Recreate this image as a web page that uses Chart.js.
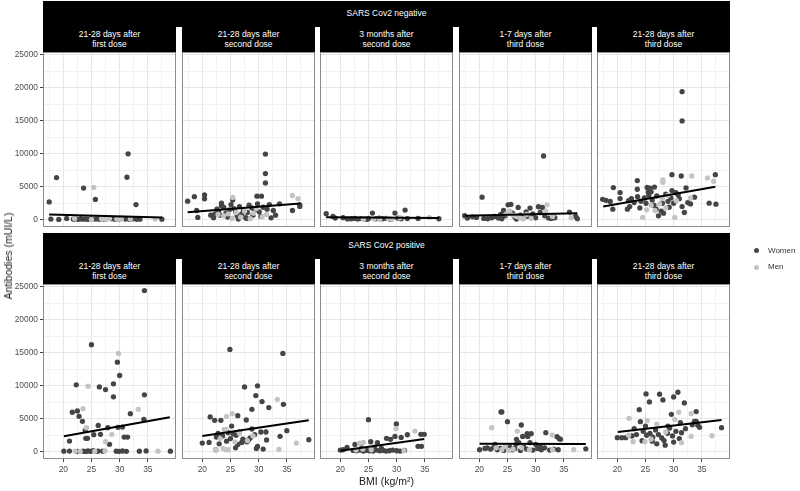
<!DOCTYPE html>
<html>
<head>
<meta charset="utf-8">
<script src="https://cdn.jsdelivr.net/npm/chart.js@4.4.1/dist/chart.umd.min.js"></script>
<style>
  body { margin: 0; width: 800px; height: 491px; position: relative; overflow: hidden; background: #fff;
         font-family: "Liberation Sans", Arial, sans-serif; }
  canvas { position: absolute; }
  .strip { position: absolute; background: #000; color: #fff; font-size: 8.5px; line-height: 9.5px;
           display: flex; align-items: center; justify-content: center; text-align: center; white-space: pre; }
  .title { position: absolute; color: #1a1a1a; font-size: 10.5px; white-space: nowrap; transform: translate(-50%, -50%); }
  .legend { position: absolute; font-size: 8px; color: #333; white-space: nowrap; }
  .dot { position: absolute; width: 5px; height: 5px; border-radius: 50%; }
</style>
</head>
<body>
<script>
// facets and axes
var rowLabels = ["SARS Cov2 negative", "SARS Cov2 positive"];
var timepoints = ["21-28 days after\nfirst dose", "21-28 days after\nsecond dose", "3 months after\nsecond dose",
                  "1-7 days after\nthird dose", "21-28 days after\nthird dose"];
var xTicks = [20, 25, 30, 35];
var yTicks = [0, 5000, 10000, 15000, 20000, 25000];
var seriesNames = ["Women", "Men"];
var xTitle = "BMI (kg/m²)";
var yTitle = "Antibodies (mUI/L)";

// SARS Cov2 negative, [BMI, antibodies]
var negFirstWomen = [[17.5,2700],[18.8,6400],[23.6,4800],[25.7,3080],[31.5,10000],[31.3,6450],[32.9,2300],
  [17.8,100],[19.2,50],[20.6,200],[21.8,80],[22.3,120],[22.7,60],[23.1,150],[23.5,90],[24.0,110],[24.4,70],
  [24.9,160],[25.6,100],[26.1,130],[26.5,60],[27.3,90],[27.9,180],[28.6,140],[29.2,60],[29.9,120],[30.6,200],
  [31.0,100],[31.7,80],[32.3,150],[33.0,60],[33.6,90],[37.5,80]];
var negFirstMen = [[25.4,4900],[26.8,120],[27.6,60],[28.2,200],[29.5,100],[30.3,60],[31.9,150],[36.3,100],[25.0,40],[22.0,200]];
var negFirstFit = [[17.5,780],[37.5,330]];

var negSecondWomen = [[17.4,2820],[18.6,3500],[20.4,3770],[20.4,3170],[19.2,360],[19.0,1400],[23.4,2520],[23.4,2110],
  [25.4,3000],[29.7,3580],[30.5,3580],[31.2,9970],[31.2,7000],[31.2,5590],[33.7,2420],[32.2,290],[36.0,1400],
  [37.3,2270],[37.3,2020],[21.5,700],[21.9,650],[22.3,900],[22.6,1600],[22.9,1200],[23.1,700],[23.8,1900],
  [24.2,1000],[24.5,400],[24.8,1500],[25.1,2300],[25.6,1700],[25.9,1200],[26.2,600],[26.6,2000],[27.0,900],
  [27.3,1400],[27.7,300],[28.0,1100],[28.3,2200],[28.8,1800],[29.0,700],[29.3,1500],[29.8,2400],[30.1,1200],
  [30.4,500],[30.8,1900],[31.5,1600],[31.9,2300],[32.6,1400],[33.0,700],[22.0,300],[26.4,100],[27.9,200]];
var negSecondMen = [[25.4,3380],[23.8,600],[24.6,900],[25.3,200],[26.0,1100],[26.8,400],[27.5,1300],[28.5,150],
  [29.1,1000],[30.6,430],[31.4,800],[36.0,3680],[37.0,3200],[22.8,800],[29.6,1700]];
var negSecondFit = [[17.4,1150],[37.4,2450]];

var neg3mWomen = [[17.5,910],[18.7,510],[19.1,260],[20.5,310],[22.0,150],[22.6,200],[23.1,100],[23.7,180],[24.3,120],
  [25.7,1010],[25.0,200],[26.3,150],[26.9,250],[27.5,150],[28.2,200],[28.8,100],[29.7,1010],[30.2,250],[31.5,1470],
  [30.8,150],[31.9,180],[33.8,200],[37.5,150],[24.8,60],[21.3,120]];
var neg3mMen = [[26.0,100],[27.0,60],[28.5,180],[29.2,80],[30.6,300],[35.8,330],[24.1,90]];
var neg3mFit = [[17.5,380],[37.5,250]];

var negThird7Women = [[20.5,3430],[31.4,9670],[17.4,610],[17.9,260],[18.8,450],[19.5,350],[20.8,200],[21.5,150],
  [22.2,300],[22.8,500],[23.4,250],[23.8,800],[24.3,1420],[24.6,600],[25.1,2270],[25.6,2320],[25.9,1000],[26.3,400],
  [26.9,1870],[27.3,700],[27.8,300],[28.3,1200],[28.7,500],[29.0,1770],[29.5,900],[30.0,300],[30.5,1970],[31.2,1870],
  [30.8,1100],[31.6,600],[32.3,250],[32.8,200],[33.4,300],[36.0,1170],[37.1,510],[37.4,160],[24.0,150],[26.6,100]];
var negThird7Men = [[24.8,900],[25.4,1300],[26.0,700],[26.6,500],[27.2,250],[27.8,150],[28.4,800],[29.2,200],
  [32.0,2270],[33.0,500],[36.3,300],[31.8,1300]];
var negThird7Fit = [[17.4,600],[37.4,1000]];

var negThird28Women = [[31.5,19430],[31.5,15000],[29.7,6840],[31.35,6640],[37.4,6840],[23.55,5940],[19.3,4880],
  [23.55,4630],[25.3,4900],[25.8,4800],[26.6,4950],[25.5,4200],[26.0,4250],[32.2,4830],[29.7,4430],[17.4,3100],
  [18.0,2950],[18.75,2770],[19.2,1610],[20.5,4130],[20.5,3220],[22.5,3200],[22.0,2900],[21.8,1600],[22.2,2000],
  [23.0,2600],[23.6,3500],[24.2,2800],[24.8,3300],[25.1,2500],[25.6,3700],[26.2,3000],[26.5,2200],[27.0,3600],
  [27.3,600],[27.8,1300],[28.2,1000],[28.6,3900],[29.0,2800],[29.5,3300],[30.0,2500],[30.4,4100],[31.0,3200],
  [31.5,2000],[31.9,1100],[32.5,2600],[33.0,2400],[33.7,3420],[36.3,2520],[37.5,2370],[30.8,3800],[24.0,1800],
  [26.9,1600],[29.2,1900],[28.0,2500]];
var negThird28Men = [[33.2,6640],[36.0,6340],[37.1,5840],[28.1,6040],[28.1,5690],[24.5,350],[30.2,350],[28.0,3200],
  [29.0,3700],[27.5,2400],[26.0,2200],[26.7,1400],[28.6,1800],[25.2,1500],[33.0,3300],[30.5,2900]];
var negThird28Fit = [[17.5,2000],[37.4,5000]];

// SARS Cov2 positive
var posFirstWomen = [[34.4,24460],[25.0,16240],[29.6,13590],[30.0,11570],[22.3,10150],[26.4,9840],[27.5,9440],
  [28.9,10300],[28.9,8330],[34.4,8630],[21.6,5990],[22.5,6190],[22.8,5380],[23.4,4620],[31.9,5780],[23.9,3250],
  [26.2,4000],[27.9,3650],[30.5,3750],[29.7,3700],[21.1,1620],[24.0,2030],[24.3,2030],[25.4,2590],[26.6,2640],
  [28.2,1120],[30.8,2230],[31.4,2230],[34.3,4920],[20.1,80],[21.1,100],[22.5,60],[23.5,90],[24.0,50],[24.4,120],
  [24.8,70],[25.3,160],[25.9,60],[26.2,100],[27.0,80],[29.4,90],[29.9,60],[30.5,110],[31.2,70],[33.5,90],
  [34.7,120],[39.0,80]];
var posFirstMen = [[29.8,14920],[24.4,9950],[23.5,6540],[33.3,6440],[24.1,3650],[28.6,2640],[27.5,1520],[22.1,100],
  [23.0,60],[25.6,80],[27.4,120],[36.8,90]];
var posFirstFit = [[20.1,2350],[38.9,5250]];

var posSecondWomen = [[24.9,15520],[34.3,14920],[27.5,9840],[29.8,10000],[29.5,8520],[30.6,7610],[31.8,6700],
  [34.4,7200],[28.8,6440],[26.3,5480],[27.8,4820],[21.4,5280],[22.2,4770],[23.3,4770],[25.2,3900],[24.0,3350],
  [20.0,1320],[21.2,1420],[22.5,2230],[22.8,2800],[23.6,2400],[24.6,2900],[25.5,2700],[26.0,2500],[26.6,3000],
  [27.2,1900],[27.6,1700],[27.9,1500],[28.2,1800],[28.5,2100],[28.8,3450],[29.3,2600],[30.4,3000],[31.3,3000],
  [31.4,1780],[29.8,800],[29.6,500],[30.8,400],[35.0,3200],[33.8,2340],[38.9,1830],[25.9,600],[23.0,1200],
  [24.3,1600],[26.3,1100],[22.4,300],[25.0,2000],[27.0,1400]];
var posSecondMen = [[33.3,7960],[24.3,5380],[25.3,5780],[24.0,3350],[24.2,3400],[36.7,1320],[33.6,350],[22.4,300],
  [24.2,300],[24.6,300],[23.2,2000],[25.8,1500],[26.6,2800],[28.0,1700],[29.0,2400],[23.7,500]];
var posSecondFit = [[20.0,2380],[38.9,4770]];

var pos3mWomen = [[25.0,4870],[29.95,4210],[31.9,2580],[30.8,2180],[29.7,2330],[28.9,1880],[34.3,2640],[34.9,2640],
  [33.8,820],[34.4,820],[28.2,2030],[25.4,1520],[26.6,1370],[22.6,1100],[21.2,660],[20.0,250],[20.5,300],
  [22.3,200],[22.9,150],[23.5,250],[24.1,100],[24.6,200],[25.2,150],[25.8,100],[26.4,250],[27.0,150],[27.6,200],
  [28.1,100],[28.7,150],[29.3,250],[30.0,150],[30.6,100],[31.4,200],[23.8,600],[27.3,500],[26.0,700]];
var pos3mMen = [[29.9,3500],[33.25,3140],[23.4,1300],[24.1,1400],[31.3,150],[24.0,400],[22.8,250],[25.5,300]];
var pos3mFit = [[20.0,150],[34.9,1930]];

var posThird7Women = [[23.85,6040],[24.0,6040],[25.0,4570],[27.45,4060],[28.5,2740],[29.2,2740],[27.7,2330],
  [28.6,2330],[31.8,2890],[33.8,2280],[34.2,1980],[34.4,1880],[26.6,1880],[27.0,1370],[26.5,1120],[29.0,1370],
  [30.0,1120],[20.05,300],[21.0,500],[21.4,600],[22.0,400],[22.6,700],[23.2,300],[23.7,500],[24.3,200],[24.8,400],
  [25.4,700],[25.9,300],[26.3,500],[27.3,200],[27.9,700],[28.4,400],[29.5,250],[30.3,500],[31.0,300],[31.6,600],
  [32.5,250],[33.2,400],[34.0,300],[38.9,450],[22.8,1100],[30.8,900]];
var posThird7Men = [[22.2,3650],[26.75,3140],[32.95,2530],[36.75,300],[23.0,600],[24.0,300],[24.6,800],[25.2,200],
  [26.0,400],[27.5,600],[28.9,300],[33.0,300]];
var posThird7Fit = [[20.05,1220],[38.9,1170]];

var posThird28Women = [[25.1,8780],[27.5,8730],[30.75,9030],[30.0,8320],[25.7,7560],[28.1,7860],[31.9,7410],
  [23.9,6390],[29.6,5680],[34.0,6090],[24.1,4570],[34.0,4620],[34.3,4010],[38.5,3650],[30.0,1470],[24.4,1670],
  [20.0,2130],[20.8,2130],[21.5,2130],[22.6,2400],[23.4,2600],[24.6,3100],[25.2,2500],[25.8,2800],[26.3,2200],
  [26.8,3300],[27.3,2600],[27.9,2100],[28.3,1700],[28.9,2800],[29.3,3600],[29.8,2400],[30.4,3100],[31.0,2000],
  [31.4,2900],[32.1,3500],[33.3,4100],[34.6,3700],[23.0,3500],[25.0,3900],[26.2,1600],[27.0,1200],[28.5,1000],
  [29.0,3900],[31.2,4400],[33.7,4600]];
var posThird28Men = [[30.9,5990],[33.1,5780],[22.1,5070],[25.3,4720],[36.8,2430],[33.1,2330],[31.4,1370],[22.8,1520],
  [24.9,1520],[27.0,4200],[26.0,1900],[28.6,3000],[30.2,4900],[22.0,2500]];
var posThird28Fit = [[20.1,3000],[38.5,4820]];

var panels = [
  [[negFirstWomen, negFirstMen, negFirstFit], [negSecondWomen, negSecondMen, negSecondFit],
   [neg3mWomen, neg3mMen, neg3mFit], [negThird7Women, negThird7Men, negThird7Fit],
   [negThird28Women, negThird28Men, negThird28Fit]],
  [[posFirstWomen, posFirstMen, posFirstFit], [posSecondWomen, posSecondMen, posSecondFit],
   [pos3mWomen, pos3mMen, pos3mFit], [posThird7Women, posThird7Men, posThird7Fit],
   [posThird28Women, posThird28Men, posThird28Fit]]
];

// layout
var colLeft = [43, 182, 320, 459, 597];
var rowTop = [52, 284];
var stripTop = [1, 233];
var panelW = 133, panelH = 175, M = 8;
var yAxisW = 43, xAxisH = 22;
var colors = ["#454545", "#c4c4c4"];
var fontTick = { family: "Liberation Sans", size: 8.4 };

function withMinor(ticks, lo, hi) {
  var half = (ticks[1] - ticks[0]) / 2, out = [], v = ticks[0];
  while (v - half >= lo) v -= half;
  for (; v < hi - 1e-9; v += half) out.push(v);
  return out;
}
function pts(a) { return a.map(function (p) { return { x: p[0], y: p[1] }; }); }

var panelBorder = {
  id: "panelBorder",
  afterDraw: function (chart) {
    var ctx = chart.ctx, a = chart.chartArea;
    ctx.save();
    ctx.strokeStyle = "#8c8c8c";
    ctx.lineWidth = 1;
    ctx.strokeRect(Math.round(a.left) + 0.5, Math.round(a.top) + 0.5, Math.round(a.width) - 1, Math.round(a.height) - 1);
    ctx.restore();
  }
};

function addDiv(cls, css, text) {
  var d = document.createElement("div");
  d.className = cls;
  d.style.cssText = css;
  if (text !== undefined) d.textContent = text;
  document.body.appendChild(d);
  return d;
}

rowLabels.forEach(function (lab, r) {
  addDiv("strip", "left:43px;top:" + stripTop[r] + "px;width:687px;height:26px;", lab);
  timepoints.forEach(function (tp, c) {
    addDiv("strip", "left:" + colLeft[c] + "px;top:" + (stripTop[r] + 26) + "px;width:" + panelW + "px;height:" +
      (rowTop[r] - stripTop[r] - 26) + "px;", tp);

    var showY = c === 0, showX = r === 1;
    var lw = showY ? yAxisW : 0, bh = showX ? xAxisH : 0;
    var cv = document.createElement("canvas");
    cv.width = M + lw + panelW + M;
    cv.height = M + panelH + bh + M;
    cv.style.left = (colLeft[c] - lw - M) + "px";
    cv.style.top = (rowTop[r] - M) + "px";
    document.body.appendChild(cv);

    var d = panels[r][c];
    new Chart(cv, {
      type: "scatter",
      data: {
        datasets: [
          { data: pts(d[2]), showLine: true, borderColor: "#000", borderWidth: 2, pointRadius: 0 },
          { label: seriesNames[1], data: pts(d[1]), backgroundColor: colors[1], borderWidth: 0, pointRadius: 2.65 },
          { label: seriesNames[0], data: pts(d[0]), backgroundColor: colors[0], borderWidth: 0, pointRadius: 2.65 }
        ]
      },
      options: {
        responsive: false, animation: false, events: [],
        layout: { padding: M },
        plugins: { legend: { display: false }, tooltip: { enabled: false } },
        scales: {
          x: {
            type: "linear", min: 16.4, max: 40,
            afterBuildTicks: function (s) { s.ticks = withMinor(xTicks, 16.4, 40).map(function (v) { return { value: v }; }); },
            afterFit: function (s) { s.height = bh; },
            border: { display: false },
            grid: {
              drawTicks: showX, tickLength: 3,
              color: function (ctx) { return xTicks.indexOf(ctx.tick.value) >= 0 ? "#e6e6e6" : "#f2f2f2"; },
              tickColor: function (ctx) { return xTicks.indexOf(ctx.tick.value) >= 0 ? "#444" : "rgba(0,0,0,0)"; }
            },
            ticks: {
              display: showX, autoSkip: false, maxRotation: 0, padding: 3, color: "#4d4d4d", font: fontTick,
              callback: function (v) { return xTicks.indexOf(v) >= 0 ? String(v) : ""; }
            }
          },
          y: {
            type: "linear", min: -1100, max: 25450,
            afterBuildTicks: function (s) { s.ticks = withMinor(yTicks, -1100, 25450).map(function (v) { return { value: v }; }); },
            afterFit: function (s) { s.width = lw; },
            border: { display: false },
            grid: {
              drawTicks: showY, tickLength: 3,
              color: function (ctx) { return yTicks.indexOf(ctx.tick.value) >= 0 ? "#e6e6e6" : "#f2f2f2"; },
              tickColor: function (ctx) { return yTicks.indexOf(ctx.tick.value) >= 0 ? "#444" : "rgba(0,0,0,0)"; }
            },
            ticks: {
              display: showY, autoSkip: false, padding: 2, color: "#4d4d4d", font: fontTick,
              callback: function (v) { return yTicks.indexOf(v) >= 0 ? String(v) : ""; }
            }
          }
        }
      },
      plugins: [panelBorder]
    });
  });
});

// axis titles
addDiv("title", "left:386.5px;top:481px;", xTitle);
addDiv("title", "left:8px;top:256px;transform:translate(-50%,-50%) rotate(-90deg);", yTitle);

// legend
seriesNames.forEach(function (name, i) {
  var y = 250.7 + i * 16.6;
  addDiv("dot", "left:" + (756 - 2.5) + "px;top:" + (y - 2.5) + "px;background:" + colors[i] + ";");
  addDiv("legend", "left:768px;top:" + (y - 5) + "px;line-height:10px;", name);
});
</script>
</body>
</html>
